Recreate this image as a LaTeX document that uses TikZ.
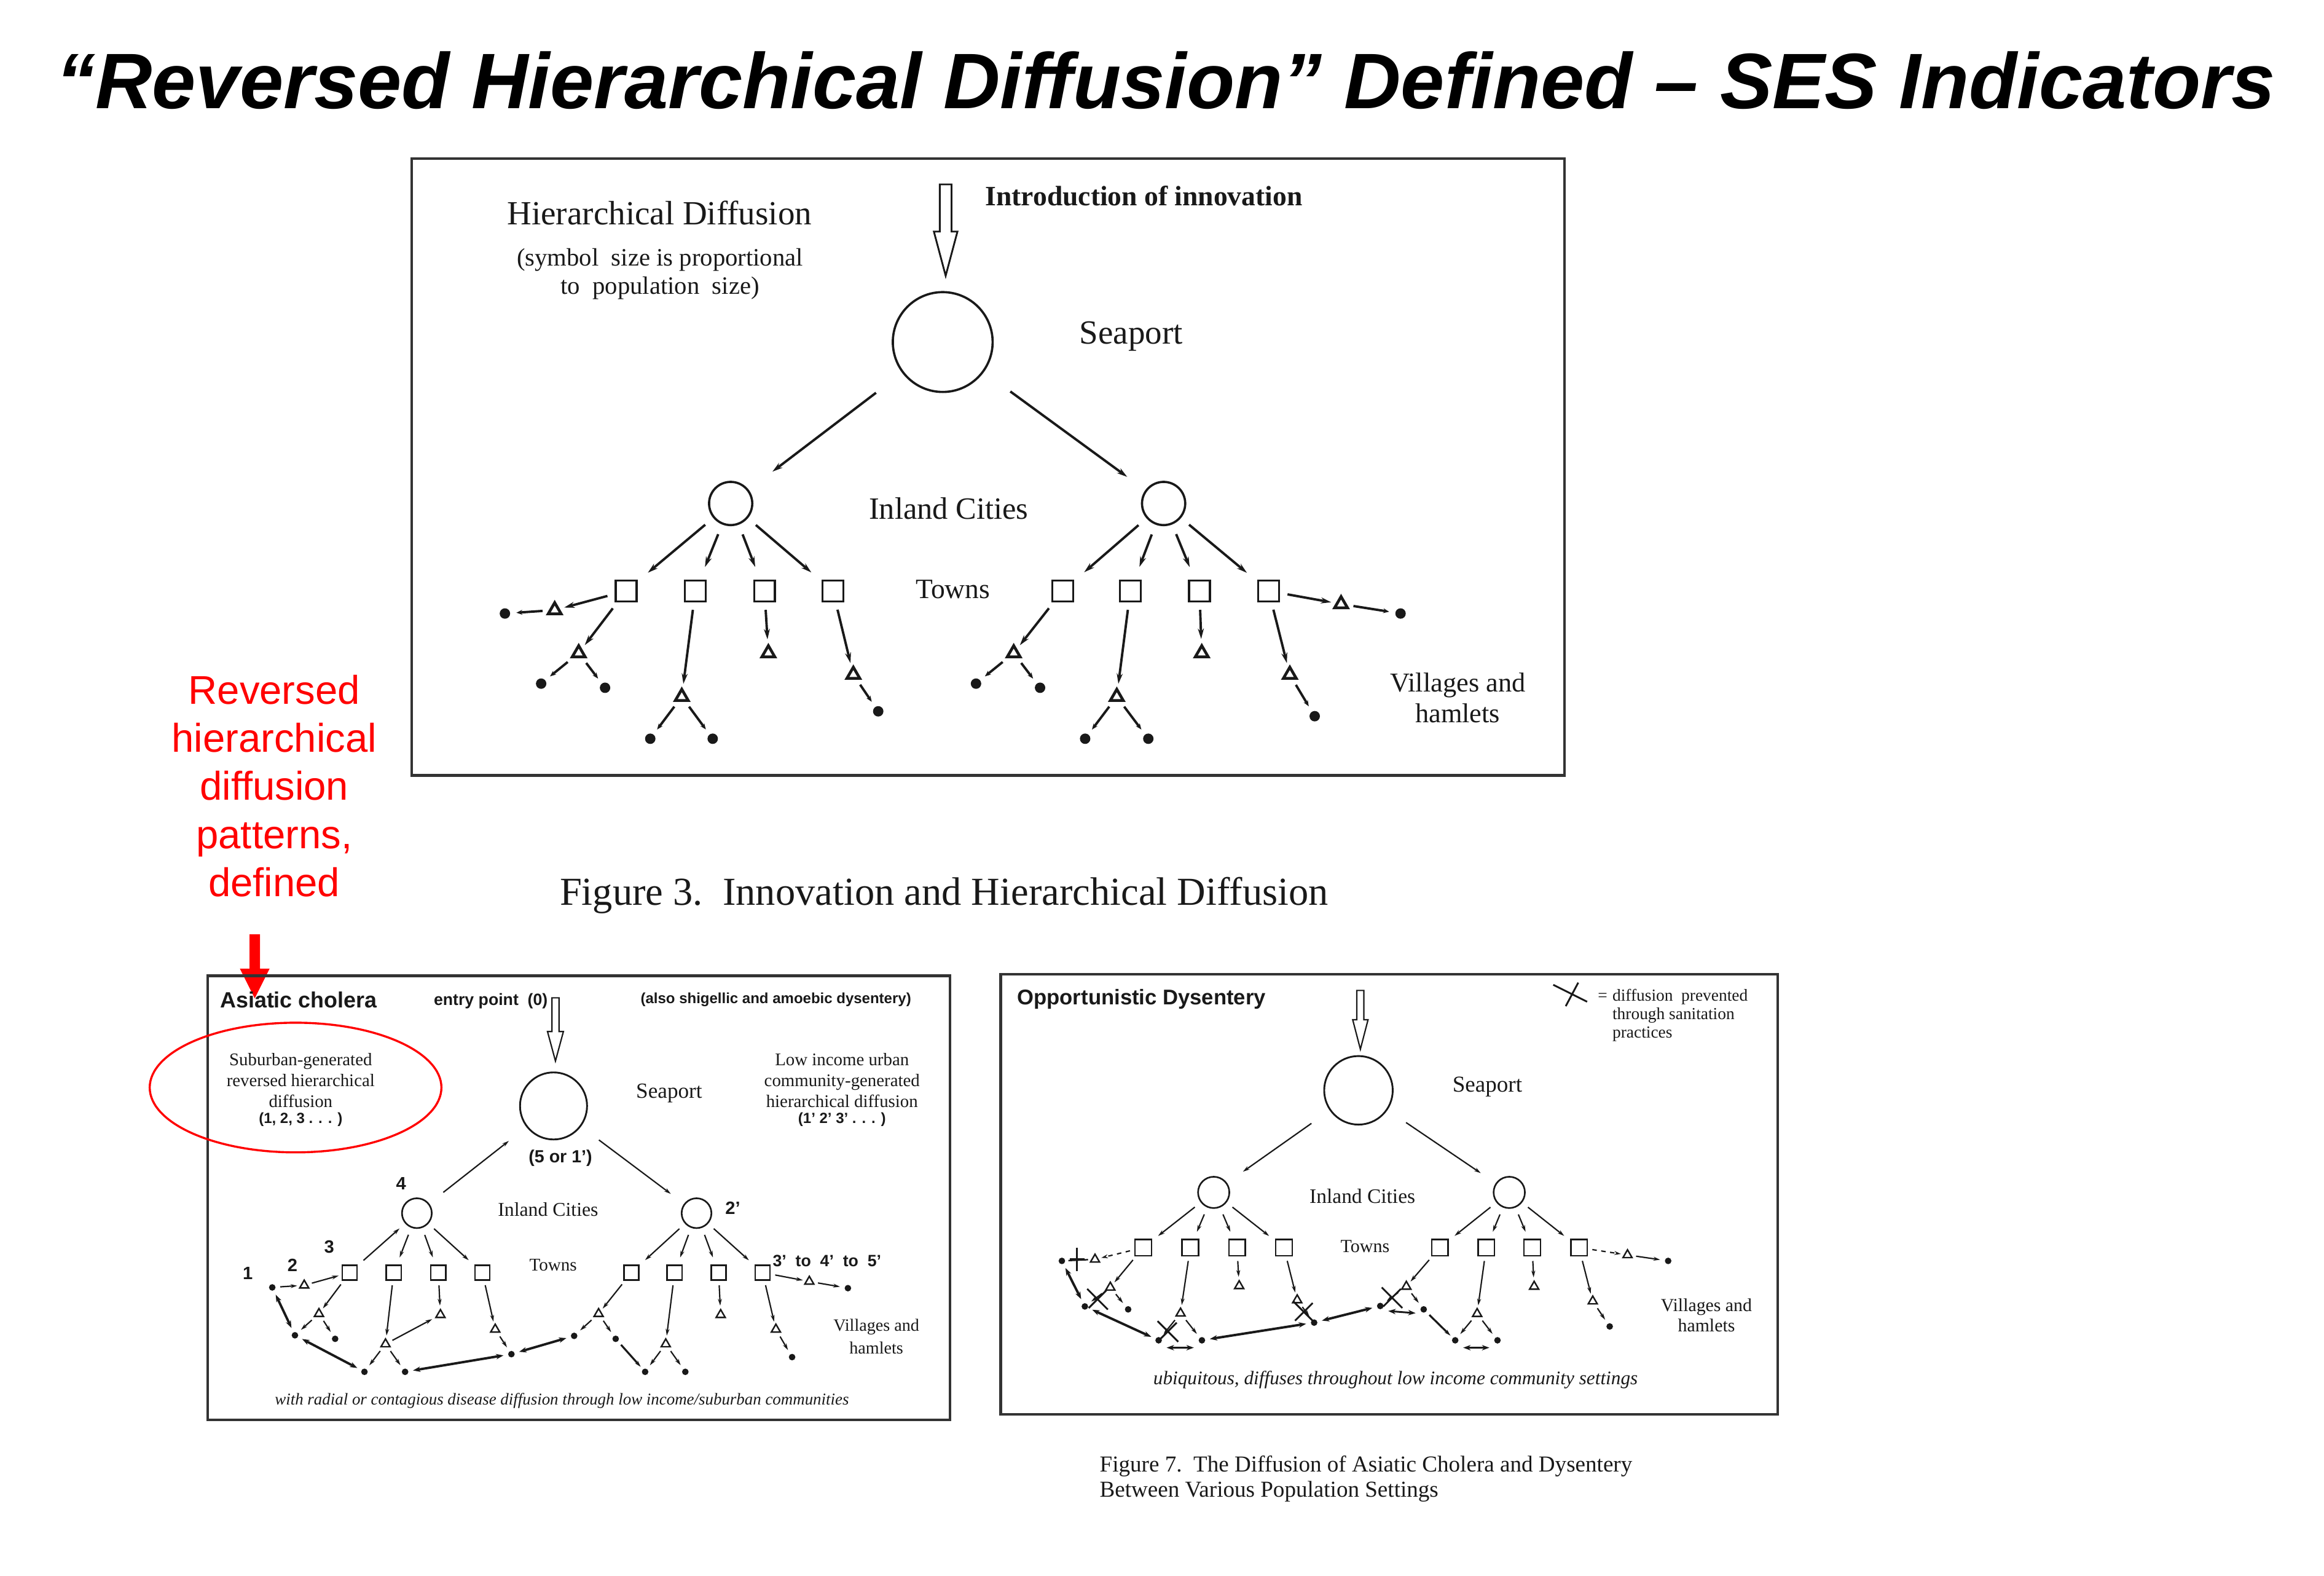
\documentclass[tikz,border=0pt]{standalone}
\usepackage{fontspec}
\setmainfont{Liberation Serif}
\newfontfamily\arial{Liberation Sans}
\usetikzlibrary{arrows.meta,shapes.geometric}
\newcommand{\fsz}[2]{\fontsize{#1}{#2}\selectfont}
\begin{document}
\begin{tikzpicture}[x=1pt,y=-1pt,
  frame/.style={draw=black!80,line width=1.8pt},
  bigc/.style={circle,draw=black!90,line width=1.5pt,inner sep=0},
  town/.style={rectangle,draw=black!90,line width=1.4pt,inner sep=0,minimum size=#1},
  tri/.style={regular polygon,regular polygon sides=3,draw=black!90,line width=1.9pt,inner sep=0,minimum size=#1},
  dot/.style={circle,fill=black!90,inner sep=0,minimum size=#1},
  conn/.style={draw=black!90,line width=1.6pt,-{Stealth[length=7pt,width=4pt]},shorten <=5pt,shorten >=3pt},
  sconn/.style={draw=black!90,line width=0.9pt,-{Stealth[length=4.5pt,width=2.6pt]},shorten <=3pt,shorten >=2pt},
  dbl/.style={draw=black!90,line width=1.6pt,{Stealth[length=5pt,width=3.6pt]}-{Stealth[length=5pt,width=3.6pt]},shorten <=3pt,shorten >=3pt},
  plain/.style={draw=black!90,line width=1pt},
  lab/.style={inner sep=0,text=black!90,align=center},
  hollow/.style={draw=black!90,line width=1.2pt,fill=white}
]
\useasboundingbox (0,0) rectangle (1560,1057.2);
\fill[white] (0,0) rectangle (1560,1057.2);

% ---------- title ----------
\node[anchor=base,inner sep=0,font=\arial\bfseries\itshape\fsz{52.8}{60}] (title) at (782.5,73)
  {“Reversed Hierarchical Diffusion” Defined – SES Indicators};

% ---------- red annotation ----------
\node[inner sep=0,text=red,align=center,font=\arial\fsz{26.9}{32.3}] (redtxt) at (184.1,527.4)
  {Reversed\\hierarchical\\diffusion\\patterns,\\defined};
\fill[red] (167.5,627) -- (174.5,627) -- (174.5,650) -- (181,650) -- (171,670) -- (161,650) -- (167.5,650) -- cycle;

% ---------- frames ----------
\draw[frame] (276.4,106.4) rectangle (1050.2,520.4);
\draw[frame] (139.4,654.8) rectangle (637.6,952.7);
\draw[frame] (671.7,653.8) rectangle (1193.3,949.1);

% ================= TOP: Hierarchical Diffusion =================
\begin{scope}[shift={(272.3,103.1)},scale=0.9885,shift={(-272.3,-103.1)}]
\node[lab,font=\fsz{22.7}{26}] (tHD) at (444.7,143.2) {Hierarchical Diffusion};
\node[lab,font=\fsz{16.8}{19.1}] (tsym) at (445,184.7) {(symbol\ \ size is proportional\\to\ \ population\ \ size)};
\node[lab,anchor=west,font=\bfseries\fsz{18.8}{22}] (tIntro) at (665.8,131.6) {Introduction of innovation};
\draw[hollow] (635,124) -- (643,124) -- (643,156) -- (647,156) -- (639,186) -- (631,156) -- (635,156) -- cycle;

\node[bigc,minimum size=67pt] (tS) at (637,231) {};
\node[lab,font=\fsz{22.7}{26}] (tSl) at (765,227) {Seaport};
\node[bigc,minimum size=29pt] (tL) at (493,340.6) {};
\node[bigc,minimum size=29pt] (tR) at (787,340.6) {};
\node[lab,font=\fsz{20.8}{24}] (tIC) at (641,343.9) {Inland Cities};
\node[town=14pt] (tq1) at (422,400) {};
\node[town=14pt] (tq2) at (469,400) {};
\node[town=14pt] (tq3) at (516,400) {};
\node[town=14pt] (tq4) at (562.5,400) {};
\node[town=14pt] (tq5) at (718.4,400) {};
\node[town=14pt] (tq6) at (764.4,400) {};
\node[town=14pt] (tq7) at (811.4,400) {};
\node[town=14pt] (tq8) at (858.4,400) {};
\node[lab,font=\fsz{18.8}{22}] (tTw) at (644,398.7) {Towns};
\node[lab,font=\fsz{18.3}{20.5}] (tVil) at (986.7,472.4) {Villages and\\hamlets};

\node[tri=10pt] (tA) at (373.5,413) {};
\node[tri=10pt] (tB) at (389.8,442.2) {};
\node[tri=10pt] (tC) at (459.8,471.8) {};
\node[tri=10pt] (tD) at (518.6,442.2) {};
\node[tri=10pt] (tE) at (576.3,456.8) {};
\node[tri=10pt] (tF) at (685.2,442.2) {};
\node[tri=10pt] (tG) at (755.2,471.8) {};
\node[tri=10pt] (tH) at (812.9,442.2) {};
\node[tri=10pt] (tI) at (872.7,456.8) {};
\node[tri=10pt] (tJ) at (907.5,408.9) {};
\node[dot=7pt] (ta) at (339.7,415.3) {};
\node[dot=7pt] (tb1) at (364.3,462.9) {};
\node[dot=7pt] (tb2) at (407.7,465.7) {};
\node[dot=7pt] (tc1) at (438.4,500.3) {};
\node[dot=7pt] (tc2) at (480.8,500.3) {};
\node[dot=7pt] (te) at (593.2,481.7) {};
\node[dot=7pt] (tf1) at (659.6,462.9) {};
\node[dot=7pt] (tf2) at (703.1,465.7) {};
\node[dot=7pt] (tg1) at (733.7,500.3) {};
\node[dot=7pt] (tg2) at (776.6,500.3) {};
\node[dot=7pt] (ti) at (889.6,485) {};
\node[dot=7pt] (tj) at (947.9,415.3) {};

\draw[conn,shorten <=22pt,shorten >=20pt] (tS) -- (tL);
\draw[conn,shorten <=22pt,shorten >=15pt] (tS) -- (tR);
\foreach \i in {1,...,4} \draw[conn,shorten <=7pt,shorten >=9pt] (tL) -- (tq\i);
\foreach \i in {5,...,8} \draw[conn,shorten <=7pt,shorten >=9pt] (tR) -- (tq\i);
\foreach \a/\b in {tq1/tA,tq1/tB,tq2/tC,tq3/tD,tq4/tE,tq5/tF,tq6/tG,tq7/tH,tq8/tI,tq8/tJ}
  \draw[conn] (\a) -- (\b);
\foreach \a/\b in {tA/ta,tB/tb1,tB/tb2,tC/tc1,tC/tc2,tE/te,tF/tf1,tF/tf2,tG/tg1,tG/tg2,tI/ti,tJ/tj}
  \draw[conn,-{Stealth[length=4pt,width=3.2pt]},shorten <=4pt,shorten >=4pt] (\a) -- (\b);
\end{scope}

\node[lab,font=\fsz{26.6}{30}] (fig3) at (633.7,601) {Figure 3.\ \ Innovation and Hierarchical Diffusion};

% ================= BOTTOM LEFT: Asiatic cholera =================
\node[ellipse,draw=red,line width=1.4pt,inner sep=0,minimum width=195.8pt,minimum height=87pt] (redell) at (198.4,729.8) {};
\begin{scope}[shift={(136.1,651.8)},scale=0.9885,shift={(-136.1,-651.8)}]
\node[lab,anchor=west,font=\arial\bfseries\fsz{14.8}{17}] (bTitle) at (147.7,671) {Asiatic cholera};
\node[lab,font=\arial\bfseries\fsz{11}{13}] (bEntry) at (331.7,671.8) {entry point\ \ (0)};
\node[lab,font=\arial\bfseries\fsz{9.9}{12}] (bAlso) at (525.3,671.2) {(also shigellic and amoebic dysentery)};
\draw[hollow,line width=0.9pt] (373.2,669.8) -- (378,669.8) -- (378,692.7) -- (381,692.7) -- (375.6,712.7) -- (370.2,692.7) -- (373.2,692.7) -- cycle;
\node[lab,font=\fsz{11.9}{14}] (bSub) at (202.6,726) {Suburban-generated\\reversed hierarchical\\diffusion};
\node[lab,font=\arial\bfseries\fsz{9.9}{12}] (bSubN) at (202.6,752.6) {(1, 2, 3 . . . )};
\node[lab,font=\fsz{11.9}{14}] (bLow) at (570.2,726) {Low income urban\\community-generated\\hierarchical diffusion};
\node[lab,font=\arial\bfseries\fsz{9.9}{12}] (bLowN) at (570.2,752.6) {(1’ 2’ 3’ . . . )};

\node[bigc,minimum size=45pt,line width=1.2pt] (bS) at (374.3,743.2) {};
\node[lab,font=\fsz{14.5}{17}] (bSl) at (452.8,734.6) {Seaport};
\node[lab,font=\arial\bfseries\fsz{11.8}{14}] (b5) at (379,778.5) {(5 or 1’)};
\node[bigc,minimum size=20pt,line width=1.1pt] (bL) at (281.5,816) {};
\node[bigc,minimum size=20pt,line width=1.1pt] (bR) at (471.4,816) {};
\node[lab,font=\fsz{13.1}{15}] (bIC) at (370.6,813.5) {Inland Cities};
\node[lab,font=\arial\bfseries\fsz{12}{14}] (b4) at (270.8,796) {4};
\node[lab,font=\arial\bfseries\fsz{12}{14}] (b2p) at (496,812.5) {2’};
\node[lab,font=\arial\bfseries\fsz{12}{14}] (b3) at (222,839) {3};
\node[lab,font=\arial\bfseries\fsz{12}{14}] (b2) at (197,851.4) {2};
\node[lab,font=\arial\bfseries\fsz{12}{14}] (b1) at (166.7,857) {1};
\node[lab,font=\arial\bfseries\fsz{11}{13}] (b345) at (560,848.4) {3’\ \ to\ \ 4’\ \ to\ \ 5’};
\node[lab,font=\fsz{12}{14}] (bTw) at (374,851.4) {Towns};
\node[lab,font=\fsz{11.6}{15}] (bVil) at (593.5,899.8) {Villages and\\hamlets};
\node[lab,font=\itshape\fsz{11.1}{13}] (bFoot) at (380,943.2) {with radial or contagious disease diffusion through low income/suburban communities};

\node[town=10pt,line width=1pt] (bq1) at (235.9,856.4) {};
\node[town=10pt,line width=1pt] (bq2) at (265.8,856.4) {};
\node[town=10pt,line width=1pt] (bq3) at (296.1,856.4) {};
\node[town=10pt,line width=1pt] (bq4) at (326,856.4) {};
\node[town=10pt,line width=1pt] (bq5) at (427.2,856.4) {};
\node[town=10pt,line width=1pt] (bq6) at (456.5,856.4) {};
\node[town=10pt,line width=1pt] (bq7) at (486.4,856.4) {};
\node[town=10pt,line width=1pt] (bq8) at (516.3,856.4) {};
\node[tri=7pt,line width=1pt] (bA) at (205,865) {};
\node[tri=7pt,line width=1pt] (bB) at (215,884.3) {};
\node[tri=7pt,line width=1pt] (bC) at (260.2,904.9) {};
\node[tri=7pt,line width=1pt] (bD) at (297.5,885) {};
\node[tri=7pt,line width=1pt] (bE) at (334.7,894.9) {};
\node[tri=7pt,line width=1pt] (bF) at (404.9,884.3) {};
\node[tri=7pt,line width=1pt] (bG) at (450.5,904.9) {};
\node[tri=7pt,line width=1pt] (bH) at (487.8,885) {};
\node[tri=7pt,line width=1pt] (bI) at (525.3,894.9) {};
\node[tri=7pt,line width=1pt] (bJ) at (548,862.4) {};
\node[dot=4.4pt] (bd1) at (183.3,866.4) {};
\node[dot=4.4pt] (bb1) at (198.7,898.9) {};
\node[dot=4.4pt] (bb2) at (226,901.3) {};
\node[dot=4.4pt] (bc1) at (245.9,923.7) {};
\node[dot=4.4pt] (bc2) at (273.5,923.7) {};
\node[dot=4.4pt] (be) at (345.7,911.7) {};
\node[dot=4.4pt] (bf1) at (388.3,899.3) {};
\node[dot=4.4pt] (bf2) at (416.5,901.3) {};
\node[dot=4.4pt] (bg1) at (436.5,923.7) {};
\node[dot=4.4pt] (bg2) at (463.8,923.7) {};
\node[dot=4.4pt] (bi) at (536.3,913.7) {};
\node[dot=4.4pt] (bj) at (574.2,866.9) {};

\draw[sconn,shorten <=12pt,shorten >=15pt] (bL) -- (bS);
\draw[sconn,shorten <=15pt,shorten >=11pt] (bS) -- (bR);
\draw[sconn,shorten <=5pt,shorten >=5pt] (bq1) -- (bL);
\foreach \i in {2,3,4} \draw[sconn,shorten <=5pt,shorten >=5pt] (bL) -- (bq\i);
\foreach \i in {5,...,8} \draw[sconn,shorten <=5pt,shorten >=5pt] (bR) -- (bq\i);
\foreach \a/\b in {bd1/bA,bA/bq1,bq1/bB,bq2/bC,bq3/bD,bC/bD,bq4/bE,bq5/bF,bq6/bG,bq7/bH,bq8/bI,bq8/bJ}
  \draw[sconn] (\a) -- (\b);
\foreach \a/\b in {bB/bb1,bB/bb2,bC/bc1,bC/bc2,bE/be,bF/bf1,bF/bf2,bG/bg1,bG/bg2,bI/bi,bJ/bj}
  \draw[sconn,shorten <=3pt,shorten >=3pt] (\a) -- (\b);
\draw[sconn,line width=1.3pt] (bf2) -- (bg1);
\foreach \a/\b in {bd1/bb1,bb1/bc1,bc2/be,be/bf1}
  \draw[dbl] (\a) -- (\b);
\end{scope}

% ================= BOTTOM RIGHT: Opportunistic Dysentery =================
\begin{scope}[shift={(668.3,651.8)},scale=0.9885,shift={(-668.3,-651.8)}]
\node[lab,anchor=west,font=\arial\bfseries\fsz{14.3}{17}] (rTitle) at (682.8,670.8) {Opportunistic Dysentery};
\draw[hollow,line width=0.9pt] (913.6,664.8) -- (918.4,664.8) -- (918.4,684.7) -- (921.2,684.7) -- (916,704.7) -- (910.8,684.7) -- (913.6,684.7) -- cycle;
\coordinate (lgX) at (1058,667.5);
\draw[draw=black!90,line width=1.2pt] (lgX) ++(-11,-6.5) -- ++(23,11.5);
\draw[draw=black!90,line width=1.2pt] (lgX) ++(-2.5,8) -- ++(8.5,-16);
\node[lab,font=\fsz{11.3}{12.4}] (rEq) at (1080.5,669.2) {=};
\node[lab,anchor=west,align=left,font=\fsz{11.3}{12.4}] (rLeg) at (1087,681.7) {diffusion\ \ prevented\\through sanitation\\practices};

\node[bigc,minimum size=46pt,line width=1.2pt] (rS) at (914.7,732.6) {};
\node[lab,font=\fsz{15.3}{18}] (rSl) at (1002.2,730.2) {Seaport};
\node[bigc,minimum size=21pt,line width=1.1pt] (rL) at (816.4,801.9) {};
\node[bigc,minimum size=21pt,line width=1.1pt] (rR) at (1017.1,801.9) {};
\node[lab,font=\fsz{13.8}{16}] (rIC) at (917.4,804.5) {Inland Cities};
\node[lab,font=\fsz{12.4}{14}] (rTw) at (919.2,838.4) {Towns};
\node[lab,font=\fsz{12.3}{13.6}] (rVil) at (1151,885.1) {Villages and\\hamlets};
\node[lab,font=\itshape\fsz{12.9}{15}] (rFoot) at (939.9,929.2) {ubiquitous, diffuses throughout low income community settings};

\node[town=11pt,line width=1pt] (rq1) at (768.6,839.4) {};
\node[town=11pt,line width=1pt] (rq2) at (800.5,839.4) {};
\node[town=11pt,line width=1pt] (rq3) at (832.3,839.4) {};
\node[town=11pt,line width=1pt] (rq4) at (864.1,839.4) {};
\node[town=11pt,line width=1pt] (rq5) at (970,839.4) {};
\node[town=11pt,line width=1pt] (rq6) at (1001.5,839.4) {};
\node[town=11pt,line width=1pt] (rq7) at (1032.7,839.4) {};
\node[town=11pt,line width=1pt] (rq8) at (1064.5,839.4) {};
\node[tri=7pt,line width=1pt] (rA) at (735.8,847.4) {};
\node[tri=7pt,line width=1pt] (rB) at (746.2,866.4) {};
\node[tri=7pt,line width=1pt] (rC) at (793.9,884) {};
\node[tri=7pt,line width=1pt] (rD) at (833.7,865.4) {};
\node[tri=7pt,line width=1pt] (rE) at (873.1,875) {};
\node[tri=7pt,line width=1pt] (rF) at (947.2,865.8) {};
\node[tri=7pt,line width=1pt] (rG) at (995.3,884.3) {};
\node[tri=7pt,line width=1pt] (rH) at (1034,865.8) {};
\node[tri=7pt,line width=1pt] (rI) at (1073.8,875.8) {};
\node[tri=7pt,line width=1pt] (rJ) at (1097.4,844.4) {};
\node[dot=4.4pt] (ra) at (713.3,848.4) {};
\node[dot=4.4pt] (rb1) at (728.9,879.3) {};
\node[dot=4.4pt] (rb2) at (758.3,881.3) {};
\node[dot=4.4pt] (rc1) at (779,902.3) {};
\node[dot=4.4pt] (rc2) at (808.4,902.3) {};
\node[dot=4.4pt] (re) at (884.6,890.3) {};
\node[dot=4.4pt] (rf1) at (929.5,879) {};
\node[dot=4.4pt] (rf2) at (959,881.3) {};
\node[dot=4.4pt] (rg1) at (980.4,902.3) {};
\node[dot=4.4pt] (rg2) at (1009.1,902.3) {};
\node[dot=4.4pt] (ri) at (1085.3,892.9) {};
\node[dot=4.4pt] (rj) at (1125,848.4) {};

\draw[sconn,shorten <=15pt,shorten >=13pt] (rS) -- (rL);
\draw[sconn,shorten <=15pt,shorten >=12pt] (rS) -- (rR);
\foreach \i in {1,...,4} \draw[sconn,shorten <=5pt,shorten >=5pt] (rL) -- (rq\i);
\foreach \i in {5,...,8} \draw[sconn,shorten <=5pt,shorten >=5pt] (rR) -- (rq\i);
\draw[sconn,dashed] (rq1) -- (rA);
\foreach \a/\b in {rq1/rB,rq2/rC,rq3/rD,rq4/rE,rq5/rF,rq6/rG,rq7/rH,rq8/rI}
  \draw[sconn] (\a) -- (\b);
\draw[sconn,dashed] (rq8) -- (rJ);
\foreach \a/\b in {rB/rb1,rB/rb2,rC/rc1,rC/rc2,rE/re,rF/rf1,rF/rf2,rG/rg1,rG/rg2,rI/ri,rJ/rj}
  \draw[sconn,shorten <=3pt,shorten >=3pt] (\a) -- (\b);
\draw[plain,shorten <=2pt,shorten >=2pt] (rA) -- (ra);
\draw[sconn,line width=1.3pt] (rf2) -- (rg1);
\foreach \a/\b in {ra/rb1,rb1/rc1,rc2/re,re/rf1}
  \draw[dbl] (\a) -- (\b);
\draw[dbl,line width=1.2pt,transform canvas={yshift=-5pt}] (rc1) -- (rc2);
\draw[dbl,line width=1.2pt,transform canvas={yshift=-3pt}] (rf1) -- (rf2);
\draw[dbl,line width=1.2pt,transform canvas={yshift=-5pt}] (rg1) -- (rg2);

% blocking marks
\coordinate (xp) at (723.7,847.4);
\draw[plain,line width=1.2pt] (xp) ++(0,-8) -- ++(0,16);
\draw[plain,line width=1.2pt] (xp) ++(-5,0) -- ++(10,0);
\foreach \c in {(737.5,874.4),(785.3,896.3),(877.6,883),(937.5,873.4)} {
  \draw[plain,line width=1.2pt] \c ++(-7,-7) -- ++(14,14);
  \draw[plain,line width=1.2pt] \c ++(-6,6) -- ++(12,-12);
}
\end{scope}

\node[lab,anchor=west,align=left,font=\fsz{15.3}{17}] (fig7) at (738,992.5)
  {Figure 7.\ \ The Diffusion of Asiatic Cholera and Dysentery\\Between Various Population Settings};
\end{tikzpicture}
\end{document}
